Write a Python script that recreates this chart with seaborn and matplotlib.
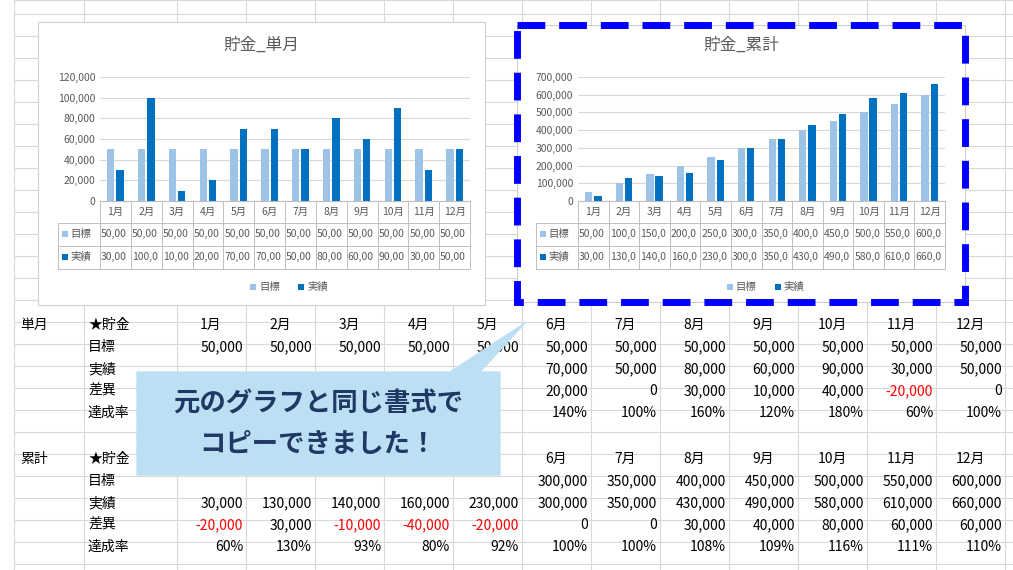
import matplotlib
matplotlib.use("Agg")
import matplotlib.pyplot as plt
import seaborn as sns
import pandas as pd
from matplotlib.patches import Rectangle, Polygon

plt.rcParams["font.family"] = ["Noto Sans CJK JP"]

months = ["1月","2月","3月","4月","5月","6月","7月","8月","9月","10月","11月","12月"]
m_target = [50000]*12
m_actual = [30000,100000,10000,20000,70000,70000,50000,80000,60000,90000,30000,50000]
m_diff = [-20000,50000,-40000,-30000,20000,20000,0,30000,10000,40000,-20000,0]
m_rate = [60,200,20,40,140,140,100,160,120,180,60,100]
c_target = [50000,100000,150000,200000,250000,300000,350000,400000,450000,500000,550000,600000]
c_actual = [30000,130000,140000,160000,230000,300000,350000,430000,490000,580000,610000,660000]
c_diff = [-20000,30000,-10000,-40000,-20000,0,0,30000,40000,80000,60000,60000]
c_rate = [60,130,93,80,92,100,100,108,109,116,111,110]
series = ["目標","実績"]
colors = ["#9DC3E6","#0070C0"]

W, H = 1013, 570
fig = plt.figure(figsize=(W/100, H/100), dpi=100)
ax0 = fig.add_axes([0,0,1,1])
ax0.set_xlim(0,W); ax0.set_ylim(H,0); ax0.axis("off")

CALLOUT = (137, 372, 500, 475)
def hidden(xl, xr, y):
    x0, y0, x1, y1 = CALLOUT
    return xr > x0 and xl < x1 and y0 - 8 < y < y1 + 8

grid_c = "#D9D9D9"
col_edges = [14, 84, 177] + [177+69*k for k in range(1,13)]
row_edges = [0] + [14+22*k for k in range(0,26)]
for x in col_edges:
    ax0.plot([x,x],[0,H],color=grid_c,lw=0.8,zorder=0)
for y in row_edges:
    ax0.plot([14,W],[y,y],color=grid_c,lw=0.8,zorder=0)

def fmt(v): return f"{v:,}"

def table(y0, label, tgt, act, diff, rate):
    rows = [("★貯金", None), ("目標", tgt), ("実績", act), ("差異", diff), ("達成率", rate)]
    ax0.text(20, y0, label, fontsize=10, va="center", zorder=1)
    for r,(name,vals) in enumerate(rows):
        y = y0 + 22*r
        ax0.text(88, y, name, fontsize=10, va="center", zorder=1)
        for k in range(12):
            xr = 246+69*k
            if hidden(xr-60, xr, y):
                continue
            if vals is None:
                ax0.text(xr-35, y, months[k], fontsize=10, va="center", ha="center", zorder=1)
                continue
            v = vals[k]
            s = f"{v}%" if name == "達成率" else fmt(v)
            col = "#FF0000" if (name == "差異" and v < 0) else "black"
            ax0.text(xr-3, y, s, fontsize=10, va="center", ha="right", color=col, zorder=1)
table(325, "単月", m_target, m_actual, m_diff, m_rate)
table(459, "累計", c_target, c_actual, c_diff, c_rate)

def chart(box, plot, title, tgt, act, yticks):
    bx0, by0, bx1, by1 = box
    ax0.add_patch(Rectangle((bx0,by0), bx1-bx0, by1-by0, fc="white", ec="#D0D0D0", lw=0.8, zorder=2))
    px0, py0, px1, py1 = plot
    ax0.text((bx0+bx1)/2, 45, title, fontsize=12, color="#595959", ha="center", va="center", zorder=3)
    ax = fig.add_axes([px0/W, 1-py1/H, (px1-px0)/W, (py1-py0)/H])
    df = pd.DataFrame({"month": months*2, "value": tgt+act,
                       "series": [series[0]]*12 + [series[1]]*12})
    sns.barplot(data=df, x="month", y="value", hue="series", palette=colors,
                ax=ax, width=0.6, gap=0.2, saturation=1, legend=False)
    ax.set_facecolor("none")
    ax.set_ylim(0, yticks[-1])
    ax.set_yticks(yticks)
    ax.set_yticklabels([fmt(t) for t in yticks], fontsize=7.5, color="#595959")
    ax.yaxis.grid(True, color="#D9D9D9", lw=0.8); ax.set_axisbelow(True)
    ax.tick_params(length=0)
    ax.set_xticks([]); ax.set_xlabel(""); ax.set_ylabel("")
    for s in ["top","right","left"]: ax.spines[s].set_visible(False)
    ax.spines["bottom"].set_color("#BFBFBF")
    cw = (px1-px0)/12
    lc = "#BFBFBF"
    tx0 = px0 - 42
    for k in range(13):
        x = px0 + cw*k
        ax0.plot([x,x],[py1, py1+68], color=lc, lw=0.7, zorder=3)
    ax0.plot([tx0,tx0],[py1+22, py1+68], color=lc, lw=0.7, zorder=3)
    for yy in [py1+22, py1+45, py1+68]:
        ax0.plot([tx0,px1],[yy,yy], color=lc, lw=0.7, zorder=3)
    for k in range(12):
        xc = px0 + cw*(k+0.5)
        ax0.text(xc, py1+11, months[k], fontsize=7.5, ha="center", va="center", color="#595959", zorder=3)
        for j,vals in enumerate([tgt, act]):
            s = fmt(vals[k])[:5]
            ax0.text(px0+cw*k+1, py1+33+23*j, s, fontsize=7.5, ha="left", va="center", color="#595959", zorder=3)
    for j in range(2):
        yy = py1+33+23*j
        ax0.add_patch(Rectangle((tx0+4, yy-3), 6, 6, fc=colors[j], ec="none", zorder=3))
        ax0.text(tx0+12, yy, series[j], fontsize=7.5, va="center", color="#595959", zorder=3)
    lx = (px0+px1)/2 - 35
    for j in range(2):
        ax0.add_patch(Rectangle((lx+48*j, py1+83), 6, 6, fc=colors[j], ec="none", zorder=3))
        ax0.text(lx+48*j+9, py1+86, series[j], fontsize=7.5, va="center", color="#595959", zorder=3)

chart((38,22,485,305), (100,77,470,201), "貯金_単月", m_target, m_actual,
      [0,20000,40000,60000,80000,100000,120000])
chart((517,25,965,302), (578,77,945,201), "貯金_累計", c_target, c_actual,
      [0,100000,200000,300000,400000,500000,600000,700000])

ax0.add_patch(Rectangle((517,25), 448, 277, fc="none", ec="#0000FF", lw=5,
                        ls=(0,(4,2)), zorder=4))

ax0.add_patch(Polygon([(137,372),(450,372),(525,323),(480,372),(500,372),(500,475),(137,475)],
                      closed=True, fc="#BDDFF3", ec="#BDDFF3", zorder=5))
ax0.text(318, 404, "元のグラフと同じ書式で", fontsize=19, fontweight="bold", color="#1F3864",
         ha="center", va="center", zorder=6)
ax0.text(318, 445, "コピーできました！", fontsize=19, fontweight="bold", color="#1F3864",
         ha="center", va="center", zorder=6)

fig.savefig("out.png", dpi=100)
